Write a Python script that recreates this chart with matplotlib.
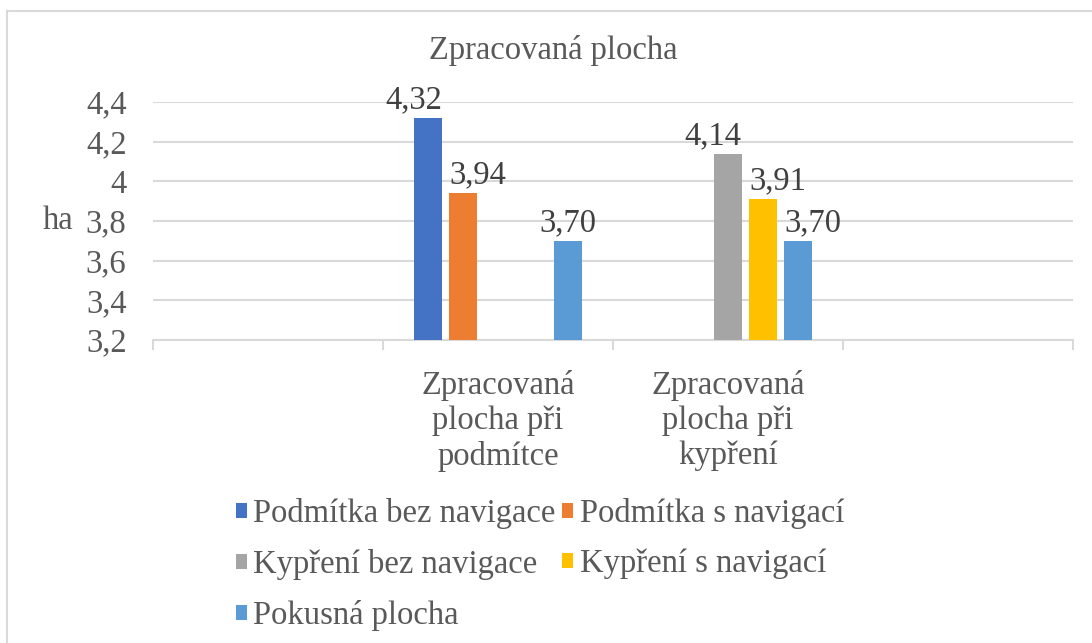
import numpy as np
import matplotlib
matplotlib.use("Agg")
import matplotlib.pyplot as plt
from matplotlib.lines import Line2D

plt.rcParams['font.family'] = ['Liberation Serif', 'DejaVu Serif']

title = "Zpracovaná plocha"
categories = ["", "Zpracovaná\nplocha při\npodmítce", "Zpracovaná\nplocha při\nkypření", ""]
series_names = ["Podmítka bez navigace", "Podmítka s navigací",
                "Kypření bez navigace", "Kypření s navigací", "Pokusná plocha"]
podmitka_bez = [np.nan, 4.32, np.nan, np.nan]
podmitka_s = [np.nan, 3.94, np.nan, np.nan]
kypreni_bez = [np.nan, np.nan, 4.14, np.nan]
kypreni_s = [np.nan, np.nan, 3.91, np.nan]
pokusna = [np.nan, 3.70, 3.70, np.nan]
y_ticks = [3.2, 3.4, 3.6, 3.8, 4.0, 4.2, 4.4]
y_tick_labels = ["3,2", "3,4", "3,6", "3,8", "4", "4,2", "4,4"]
y_label = "ha"

series = [podmitka_bez, podmitka_s, kypreni_bez, kypreni_s, pokusna]
colors = ["#4472C4", "#ED7D31", "#A5A5A5", "#FFC000", "#5B9BD5"]
# horizontal anchoring of each data label relative to its bar (as placed in the original)
label_align = [["right"] * 4, ["left"] * 4, ["right"] * 4, ["left"] * 4,
               ["center", "center", "left", "center"]]
text_color = "#595959"
FS = 23.5

fig = plt.figure(figsize=(10.92, 6.43), dpi=100)
ax = fig.add_axes([153/1092, 1-340/643, (1073-153)/1092, (340-102)/643])

x = np.arange(len(categories))
pitch = 0.152
width = 0.12
handles = []
for i, (vals, c, name) in enumerate(zip(series, colors, series_names)):
    pos = x + (i - 2) * pitch
    bars = ax.bar(pos, vals, width=width, color=c, label=name, zorder=3)
    handles.append(bars)
    for j, (p, v) in enumerate(zip(pos, vals)):
        if not np.isnan(v):
            ha = label_align[i][j]
            ax_x = {"left": p - width / 2, "right": p + width / 2, "center": p}[ha]
            ax.annotate(f"{v:.2f}".replace(".", ","), (ax_x, v), xytext=(0, 2),
                        textcoords="offset points", ha=ha, va="bottom",
                        fontsize=FS, color="#404040", zorder=4)

ax.set_ylim(3.2, 4.4)
ax.set_xlim(-0.5, len(categories) - 0.5)
ax.set_yticks(y_ticks)
ax.set_yticklabels(y_tick_labels)
ax.tick_params(axis='y', length=0, pad=19, labelsize=FS, labelcolor=text_color)
ax.grid(axis='y', color="#D9D9D9", linewidth=1.5, zorder=0)
for s in ["top", "right", "left"]:
    ax.spines[s].set_visible(False)
ax.spines["bottom"].set_color("#D9D9D9")
ax.spines["bottom"].set_linewidth(1.5)

# category boundary ticks
ax.set_xticks(np.arange(-0.5, len(categories), 1.0))
ax.set_xticklabels([])
ax.tick_params(axis='x', length=7, width=1.5, color="#D9D9D9", direction="out")
for xi, lab in zip(x, categories):
    if lab:
        ax.text(xi, -0.125, lab, transform=ax.get_xaxis_transform(), ha="center", va="top",
                fontsize=FS, color=text_color, linespacing=1.2)

fig.text(58/1092, 1-221/643, y_label, ha="center", va="center", fontsize=FS, color=text_color)
fig.text(553/1092, 1-50/643, title, ha="center", va="center", fontsize=FS, color=text_color)

order = [0, 2, 4, 1, 3]
leg = fig.legend([handles[i] for i in order], [series_names[i] for i in order],
                 ncol=2, loc="upper left", bbox_to_anchor=(236/1092, 1-498/643),
                 frameon=False, fontsize=FS, handlelength=0.33, handleheight=0.33,
                 handletextpad=0.2, columnspacing=0.2, labelspacing=0.61,
                 borderpad=0, borderaxespad=0)
for t in leg.get_texts():
    t.set_color(text_color)

fig.add_artist(Line2D([7/1092, 7/1092], [0, 1-11/643], transform=fig.transFigure,
                      color="#D9D9D9", linewidth=1.5))
fig.add_artist(Line2D([7/1092, 1], [1-11/643, 1-11/643], transform=fig.transFigure,
                      color="#D9D9D9", linewidth=1.5))

fig.savefig("out.png", dpi=100)
